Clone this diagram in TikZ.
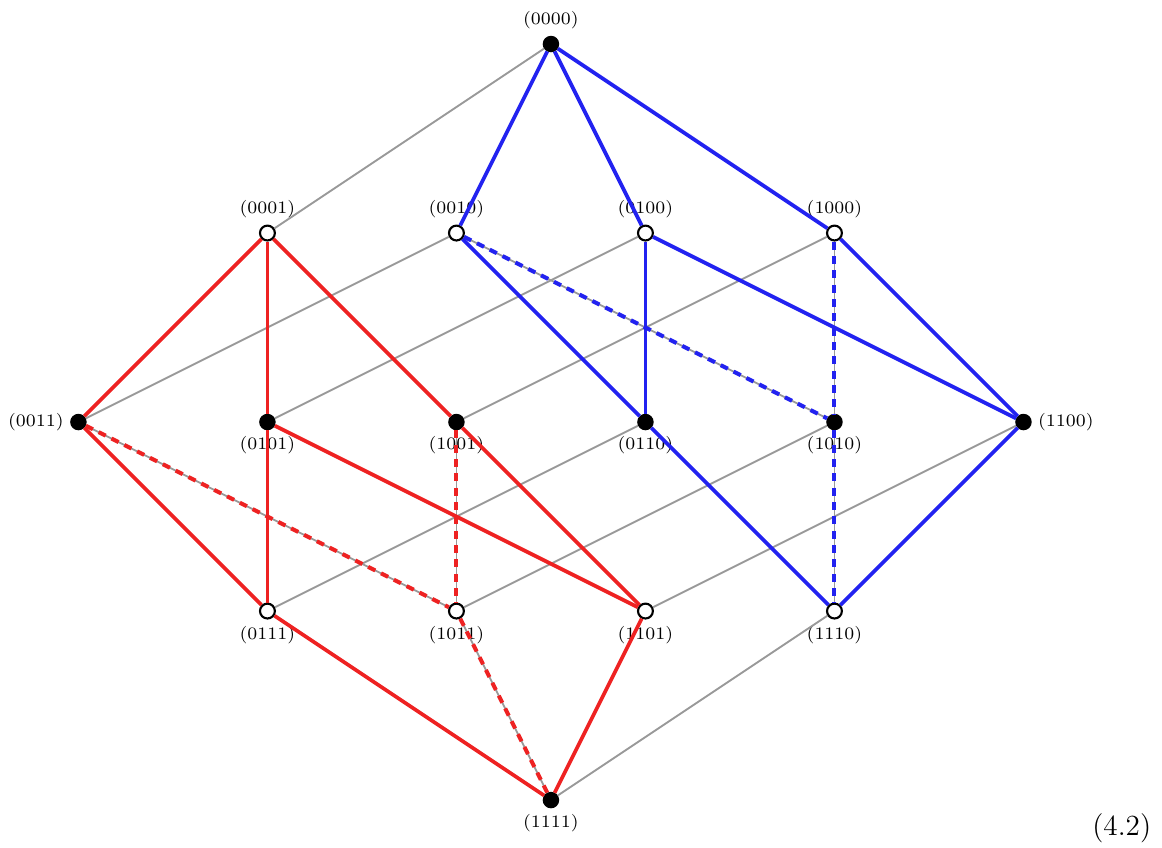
\documentclass[tikz,border=0pt]{standalone}
\usepackage{amsmath}
\usetikzlibrary{positioning}
\definecolor{hblue}{RGB}{34,34,240}
\definecolor{hred}{RGB}{238,34,34}
\definecolor{hgray}{RGB}{153,153,153}
\tikzset{
	full/.style={circle,draw=black,fill=black,line width=0.6pt,inner sep=0pt,minimum size=5.6pt},
	hollow/.style={circle,draw=black,fill=white,line width=0.8pt,inner sep=0pt,minimum size=5.6pt},
	lab/.style={font=\fontsize{6.6}{8}\selectfont},
	base/.style={draw=hgray,line width=0.7pt},
	bline/.style={draw=hblue,line width=1.4pt},
	rline/.style={draw=hred,line width=1.4pt},
	bdash/.style={draw=hblue,line width=1.5pt,dash pattern=on 3pt off 2.4pt},
	rdash/.style={draw=hred,line width=1.5pt,dash pattern=on 3pt off 2.4pt},
}

\begin{document}
\begin{tikzpicture}[x=2.5cm,y=2.5cm,label distance=-1.1pt,every label/.style={lab}]
	\useasboundingbox (-2.915,-2.249) rectangle (3.233,2.233);
	% elements of the lattice
	\node[full,label=above:{(0000)}] (n0000) at (0,2) {};
	\node[hollow,label=above:{(0001)}] (n0001) at (-1.5,1) {};
	\node[hollow,label=above:{(0010)}] (n0010) at (-0.5,1) {};
	\node[hollow,label=above:{(0100)}] (n0100) at (0.5,1) {};
	\node[hollow,label=above:{(1000)}] (n1000) at (1.5,1) {};
	\node[full,label=left:{(0011)}] (n0011) at (-2.5,0) {};
	\node[full,label=below:{(0101)}] (n0101) at (-1.5,0) {};
	\node[full,label=below:{(1001)}] (n1001) at (-0.5,0) {};
	\node[full,label=below:{(0110)}] (n0110) at (0.5,0) {};
	\node[full,label=below:{(1010)}] (n1010) at (1.5,0) {};
	\node[full,label=right:{(1100)}] (n1100) at (2.5,0) {};
	\node[hollow,label=below:{(0111)}] (n0111) at (-1.5,-1) {};
	\node[hollow,label=below:{(1011)}] (n1011) at (-0.5,-1) {};
	\node[hollow,label=below:{(1101)}] (n1101) at (0.5,-1) {};
	\node[hollow,label=below:{(1110)}] (n1110) at (1.5,-1) {};
	\node[full,label=below:{(1111)}] (n1111) at (0,-2) {};
	\node[font=\fontsize{11}{13}\selectfont] (eqnum) at (3.02,-2.148) {(4.2)};

	% the whole Hasse diagram
	\path[base]
	(n0000) edge (n0001) edge (n0010) edge (n0100) edge (n1000)
	(n0001) edge (n0011) edge (n0101) edge (n1001)
	(n0010) edge (n0011) edge (n0110) edge (n1010)
	(n0100) edge (n0101) edge (n0110) edge (n1100)
	(n1000) edge (n1001) edge (n1010) edge (n1100)
	(n0011) edge (n0111) edge (n1011)
	(n0101) edge (n0111) edge (n1101)
	(n1001) edge (n1011) edge (n1101)
	(n0110) edge (n0111) edge (n1110)
	(n1010) edge (n1011) edge (n1110)
	(n1100) edge (n1101) edge (n1110)
	(n0111) edge (n1111)
	(n1011) edge (n1111)
	(n1101) edge (n1111)
	(n1110) edge (n1111);

	% upper part
	\path[bline]
	(n0000) edge (n0010) edge (n0100) edge (n1000)
	(n0010) edge (n0110)
	(n0100) edge (n0110) edge (n1100)
	(n1000) edge (n1100)
	(n0110) edge (n1110)
	(n1110) edge (n1100);
	\path[bdash]
	(n0010) edge (n1010)
	(n1000) edge (n1010)
	(n1010) edge (n1110);

	% lower part
	\path[rline]
	(n0001) edge (n0011) edge (n0101) edge (n1001)
	(n0011) edge (n0111)
	(n0101) edge (n0111) edge (n1101)
	(n1001) edge (n1101)
	(n0111) edge (n1111)
	(n1101) edge (n1111);
	\path[rdash]
	(n0011) edge (n1011)
	(n1001) edge (n1011)
	(n1011) edge (n1111);
\end{tikzpicture}
\end{document}
